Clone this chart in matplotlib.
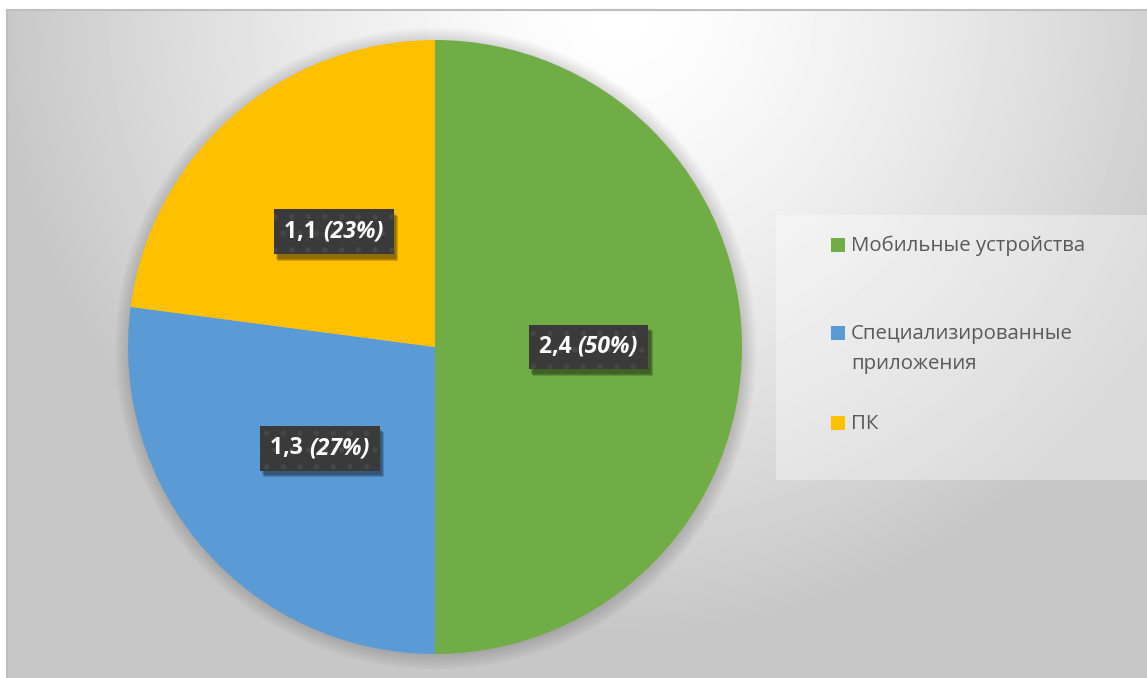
import numpy as np
import matplotlib.pyplot as plt
from matplotlib.patches import Rectangle, Circle
from matplotlib.offsetbox import TextArea, HPacker, AnnotationBbox
from matplotlib.transforms import IdentityTransform

plt.rcParams['font.family'] = ['Open Sans', 'DejaVu Sans']
plt.rcParams['hatch.linewidth'] = 1.5

# data
categories = ['Мобильные устройства', 'Специализированные\nприложения', 'ПК']
values = [2.4, 1.3, 1.1]
value_labels = ['2,4', '1,3', '1,1']
colors = ['#70ad47', '#5b9bd5', '#ffc000']

W, H = 1147, 678
fig = plt.figure(figsize=(W / 100, H / 100), dpi=100)
fig.patch.set_facecolor('white')

# chart area background: soft radial gradient
bg = fig.add_axes([7 / W, 0, (W - 7) / W, (H - 10) / H])
yy, xx = np.mgrid[0:H - 10, 0:W - 7]
d = np.hypot(xx - 613, yy)
t = np.clip(d / 620, 0, 1) ** 1.4
grad = (255 - 56 * t) / 255
bg.imshow(grad, cmap='gray', vmin=0, vmax=1, aspect='auto', interpolation='bilinear')
bg.set_xticks([])
bg.set_yticks([])
for s in ['right', 'bottom']:
    bg.spines[s].set_visible(False)
for s in ['top', 'left']:
    bg.spines[s].set_color('#bfbfbf')
    bg.spines[s].set_linewidth(1.5)

# pie
cx, cy, r = 435, 347, 307
ax = fig.add_axes([(cx - r) / W, (H - cy - r) / H, 2 * r / W, 2 * r / H])
ax.axis('off')

# soft shadow behind pie
for k in range(10):
    ax.add_patch(Circle((0.003, -0.005), 1 + k * 0.005, color='k', alpha=0.015,
                        lw=0, zorder=0, clip_on=False))

wedges, _ = ax.pie(values, colors=colors, startangle=90, counterclock=False,
                   radius=1, wedgeprops=dict(linewidth=0), frame=False)
ax.set_xlim(-1, 1)
ax.set_ylim(-1, 1)

total = sum(values)
boxes = []
for w, v, vl in zip(wedges, values, value_labels):
    ang = np.deg2rad((w.theta1 + w.theta2) / 2)
    x, y = 0.5 * np.cos(ang), 0.5 * np.sin(ang)
    pct = round(v / total * 100)
    t1 = TextArea(vl + ' ', textprops=dict(color='white', fontsize=16.5, fontweight='bold'))
    t2 = TextArea('(%d%%)' % pct, textprops=dict(color='white', fontsize=16.5,
                                                 fontweight='bold', fontstyle='italic'))
    packed = HPacker(children=[t1, t2], pad=0, sep=0, align='baseline')
    ab = AnnotationBbox(packed, (x, y), xycoords='data', frameon=True, pad=0.75,
                        bboxprops=dict(facecolor='#3a3a3a', edgecolor='#474747',
                                       hatch='.', linewidth=0),
                        zorder=5)
    ax.add_artist(ab)
    boxes.append(ab)

# drop shadows under the label boxes (blurred by stacking)
fig.canvas.draw()
renderer = fig.canvas.get_renderer()
for ab in boxes:
    bb = ab.patch.get_window_extent(renderer)
    for dx, dy in [(2.5, -4.5), (3.5, -5.5), (4.5, -6.5)]:
        ax.add_artist(Rectangle((bb.x0 + dx, bb.y0 + dy), bb.width, bb.height,
                                transform=IdentityTransform(), facecolor='black',
                                alpha=0.17, lw=0, zorder=4, clip_on=False))

# legend
fig.patches.append(Rectangle((776 / W, (H - 480) / H), (W - 776) / W, 265 / H,
                             transform=fig.transFigure, facecolor='white', alpha=0.35,
                             lw=0, figure=fig))
leg_y = [245, 333, 423]
for cat, c, ly in zip(categories, colors, leg_y):
    fig.patches.append(Rectangle((831 / W, (H - ly - 7) / H), 14 / W, 14 / H,
                                 transform=fig.transFigure, facecolor=c, lw=0, figure=fig))
    for i, line in enumerate(cat.split('\n')):
        fig.text(851 / W, (H - ly - 30 * i - 1) / H, line, color='#595959', fontsize=14.7,
                 va='center', ha='left')

fig.savefig('out.png', dpi=100)
